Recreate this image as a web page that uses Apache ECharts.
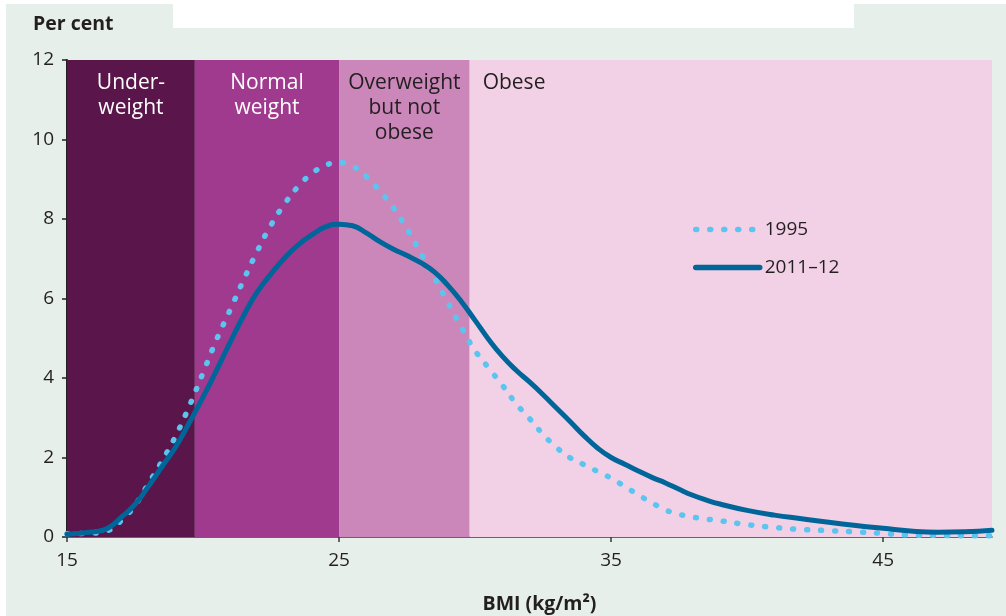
<!DOCTYPE html>
<html>
<head>
<meta charset="utf-8">
<script src="https://cdn.jsdelivr.net/npm/echarts@6/dist/echarts.min.js"></script>
<style>
  html, body { margin: 0; padding: 0; background: #ffffff; }
  #chart { width: 1006px; height: 616px; }
</style>
</head>
<body>
<div id="chart"></div>
<script>
// BMI values (kg/m2)
const bmi = [15, 16, 16.5, 17, 17.5, 18, 18.5, 19, 19.5, 20, 20.5, 21, 21.5, 22, 22.5, 23, 23.5, 24, 24.5, 25,
  25.5, 26, 26.5, 27, 27.5, 28, 28.5, 29, 29.5, 30, 30.5, 31, 31.5, 32, 32.5, 33, 33.5, 34, 34.5, 35,
  35.5, 36, 36.5, 37, 37.5, 38, 38.5, 39, 40, 41, 42, 43, 44, 45, 46, 47, 48, 49];
// Per cent of population, 1995
const pct1995 = [0.08, 0.10, 0.16, 0.42, 0.80, 1.35, 1.92, 2.55, 3.30, 4.13, 4.97, 5.72, 6.48, 7.20, 7.85, 8.38, 8.82, 9.14, 9.35, 9.42,
  9.33, 9.07, 8.70, 8.28, 7.75, 7.15, 6.52, 5.90, 5.27, 4.69, 4.25, 3.82, 3.36, 2.98, 2.58, 2.25, 1.99, 1.82, 1.65, 1.48,
  1.27, 1.06, 0.86, 0.68, 0.57, 0.50, 0.45, 0.41, 0.31, 0.24, 0.19, 0.16, 0.13, 0.09, 0.05, 0.04, 0.03, 0.03];
// Per cent of population, 2011–12
const pct2011 = [0.07, 0.13, 0.22, 0.50, 0.82, 1.28, 1.78, 2.27, 2.88, 3.52, 4.20, 4.90, 5.58, 6.17, 6.62, 7.02, 7.35, 7.60, 7.80, 7.87,
  7.83, 7.65, 7.43, 7.24, 7.08, 6.90, 6.67, 6.33, 5.92, 5.45, 4.97, 4.55, 4.20, 3.90, 3.58, 3.24, 2.90, 2.55, 2.24, 2.00,
  1.83, 1.66, 1.50, 1.36, 1.20, 1.05, 0.93, 0.83, 0.67, 0.55, 0.46, 0.37, 0.29, 0.22, 0.15, 0.12, 0.13, 0.17];

const seriesNames = ['1995', '2011–12'];
// BMI category bands
const bandStarts = [15, 19.7, 25, 29.8];
const bandEnds = [19.7, 25, 29.8, 49];
const bandLabels = ['Under-\nweight', 'Normal\nweight', 'Overweight\nbut not\nobese', 'Obese'];
const bandColors = ['#5a154b', '#a03a8e', '#cb87b9', '#f2d1e6'];
const bandTextColors = ['#ffffff', '#ffffff', '#231f20', '#231f20'];

const xTicks = [15, 25, 35, 45];

const FONT = '"Open Sans", "Noto Sans", sans-serif';
const TXT = '#231f20';

const bandData = bandStarts.map((s, i) => [
  {
    xAxis: s,
    itemStyle: { color: bandColors[i] },
    label: i === 3 ? {
      show: true,
      formatter: bandLabels[i],
      position: [13, 11],
      align: 'left',
      verticalAlign: 'top',
      color: bandTextColors[i],
      fontSize: 21,
      fontFamily: FONT,
      lineHeight: 25
    } : {
      show: true,
      formatter: bandLabels[i],
      position: 'insideTop',
      distance: 11,
      color: bandTextColors[i],
      fontSize: 21,
      fontFamily: FONT,
      lineHeight: 25,
      align: 'center'
    }
  },
  { xAxis: bandEnds[i] }
]);

const chart = echarts.init(document.getElementById('chart'), null, { renderer: 'canvas' });
chart.setOption({
  backgroundColor: '#ffffff',
  animation: false,
  textStyle: { fontFamily: FONT, color: TXT },
  graphic: [
    { type: 'rect', z: -10, silent: true, shape: { x: 6, y: 4, width: 1000, height: 612 }, style: { fill: '#e6efea' } },
    { type: 'rect', z: -9, silent: true, shape: { x: 173, y: 0, width: 681, height: 28 }, style: { fill: '#ffffff' } }
  ],
  title: {
    text: 'Per cent',
    left: 28,
    top: 9,
    textStyle: { fontFamily: FONT, fontSize: 19.5, fontWeight: 'bold', color: TXT }
  },
  legend: {
    orient: 'vertical',
    left: 688,
    top: 215,
    itemWidth: 64,
    itemHeight: 20,
    itemGap: 19,
    data: seriesNames,
    textStyle: { fontFamily: FONT, fontSize: 19, color: TXT, padding: [0, 0, 0, 0] },
    lineStyle: { width: 5.5 },
    itemStyle: { opacity: 0 }
  },
  grid: { left: 67, right: 14, top: 60, bottom: 79, containLabel: false, outerBoundsMode: 'none' },
  xAxis: {
    type: 'value',
    min: 15,
    max: 49,
    interval: 10,
    name: 'BMI (kg/m²)',
    nameLocation: 'middle',
    nameGap: 57,
    nameTextStyle: { fontFamily: FONT, fontSize: 19.5, fontWeight: 'bold', color: TXT, padding: [0, 0, 0, 20] },
    axisLine: { show: true, lineStyle: { color: '#3a3a3a', width: 1.5 } },
    axisTick: { show: true, length: 5, customValues: xTicks, lineStyle: { color: '#3a3a3a', width: 1.5 } },
    axisLabel: { customValues: xTicks, fontSize: 19, color: TXT, fontFamily: FONT, margin: 14 },
    splitLine: { show: false }
  },
  yAxis: {
    type: 'value',
    min: 0,
    max: 12,
    interval: 2,
    axisLine: { show: true, lineStyle: { color: '#231f20', width: 2 } },
    axisTick: { show: true, length: 5, lineStyle: { color: '#231f20', width: 1.5 } },
    axisLabel: { fontSize: 19, color: TXT, fontFamily: FONT, margin: 13 },
    splitLine: { show: false }
  },
  series: [
    {
      name: seriesNames[0],
      type: 'line',
      z: 4,
      smooth: 0.5,
      symbol: 'none',
      data: bmi.map((b, i) => [b, pct1995[i]]),
      lineStyle: { color: '#5bc5ef', width: 5.5, type: [1, 13], cap: 'round' },
      itemStyle: { color: '#5bc5ef' },
      markArea: { silent: true, z: 1, data: bandData }
    },
    {
      name: seriesNames[1],
      type: 'line',
      z: 5,
      smooth: 0.5,
      symbol: 'none',
      data: bmi.map((b, i) => [b, pct2011[i]]),
      lineStyle: { color: '#006699', width: 5, cap: 'round' },
      itemStyle: { color: '#006699' }
    }
  ]
});
</script>
</body>
</html>
